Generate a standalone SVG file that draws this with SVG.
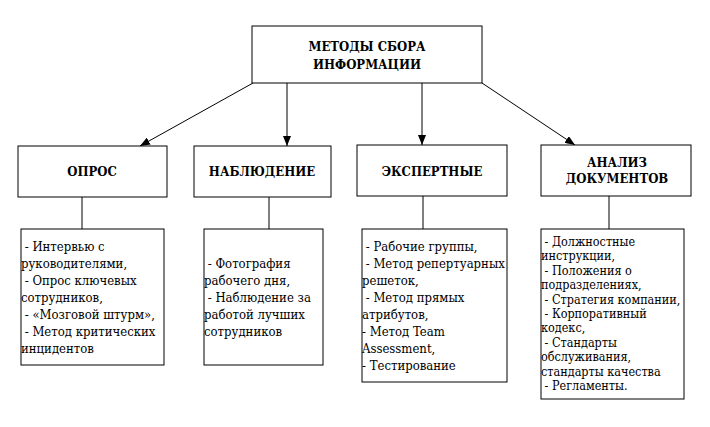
<svg xmlns="http://www.w3.org/2000/svg" width="710" height="427" viewBox="0 0 710 427">
<defs>
<marker id="ah" markerWidth="10" markerHeight="8" refX="10" refY="4" orient="auto" markerUnits="userSpaceOnUse">
<path d="M0,0 L10,4 L0,8 Z" fill="#000"/>
</marker>
<style>
.box{fill:#fff;stroke:#000;stroke-width:1}
.h{font-weight:bold;font-size:13px;text-anchor:middle;fill:#000}
.t{font-size:13px;fill:#000}
.s{font-size:12.5px}
.c{stroke:#000;stroke-width:1;fill:none}
</style>
</defs>
<rect width="710" height="427" fill="#fff"/>
<g id="connectors">
<line class="c" x1="253" y1="83" x2="140" y2="146" marker-end="url(#ah)"/>
<line class="c" x1="287" y1="83" x2="287" y2="146" marker-end="url(#ah)"/>
<line class="c" x1="422" y1="83" x2="422" y2="145" marker-end="url(#ah)"/>
<line class="c" x1="482" y1="83" x2="575" y2="145" marker-end="url(#ah)"/>
<line class="c" x1="82" y1="197" x2="82" y2="229"/>
<line class="c" x1="269" y1="197" x2="269" y2="229"/>
<line class="c" x1="423" y1="196" x2="423" y2="229"/>
<line class="c" x1="609" y1="196" x2="609" y2="229"/>
</g>
<g font-family="DejaVu Serif, Noto Serif, serif" font-stretch="condensed">
<g id="root">
<rect class="box" x="252" y="26" width="230" height="57"/>
<text class="h" x="367" y="51">МЕТОДЫ СБОРА</text>
<text class="h" x="367" y="69">ИНФОРМАЦИИ</text>
</g>
<g id="opros">
<rect class="box" x="18" y="146" width="149" height="51"/>
<text class="h" x="92" y="176">ОПРОС</text>
</g>
<g id="nabl">
<rect class="box" x="194" y="146" width="137" height="51"/>
<text class="h" x="262" y="176">НАБЛЮДЕНИЕ</text>
</g>
<g id="expert">
<rect class="box" x="357" y="145" width="150" height="51"/>
<text class="h" x="432" y="176">ЭКСПЕРТНЫЕ</text>
</g>
<g id="analiz">
<rect class="box" x="541" y="145" width="150" height="51"/>
<text class="h" x="617" y="167">АНАЛИЗ</text>
<text class="h" x="617" y="183">ДОКУМЕНТОВ</text>
</g>
<g id="opros-list">
<rect class="box" x="21" y="229" width="143" height="136"/>
<text class="t" xml:space="preserve"><tspan x="21" y="251"> - Интервью с</tspan><tspan x="21" y="268">руководителями,</tspan><tspan x="21" y="285"> - Опрос ключевых</tspan><tspan x="21" y="302">сотрудников,</tspan><tspan x="21" y="319"> - «Мозговой штурм»,</tspan><tspan x="21" y="336"> - Метод критических</tspan><tspan x="21" y="353">инцидентов</tspan></text>
</g>
<g id="nabl-list">
<rect class="box" x="204" y="229" width="119" height="136"/>
<text class="t" xml:space="preserve"><tspan x="204" y="268"> - Фотография</tspan><tspan x="204" y="285">рабочего дня,</tspan><tspan x="204" y="302"> - Наблюдение за</tspan><tspan x="204" y="319">работой лучших</tspan><tspan x="204" y="336">сотрудников</tspan></text>
</g>
<g id="expert-list">
<rect class="box" x="362" y="229" width="145" height="153"/>
<text class="t" xml:space="preserve"><tspan x="362" y="251"> - Рабочие группы,</tspan><tspan x="362" y="268"> - Метод репертуарных</tspan><tspan x="362" y="285">решеток,</tspan><tspan x="362" y="302"> - Метод прямых</tspan><tspan x="362" y="319">атрибутов,</tspan><tspan x="362" y="336">- Метод Team</tspan><tspan x="362" y="353">Assessment,</tspan><tspan x="362" y="370">- Тестирование</tspan></text>
</g>
<g id="analiz-list">
<rect class="box" x="541" y="229" width="143" height="170"/>
<text class="t s" xml:space="preserve"><tspan x="541" y="246"> - Должностные</tspan><tspan x="541" y="260.4">инструкции,</tspan><tspan x="541" y="274.8"> - Положения о</tspan><tspan x="541" y="289.2">подразделениях,</tspan><tspan x="541" y="303.6"> - Стратегия компании,</tspan><tspan x="541" y="318"> - Корпоративный</tspan><tspan x="541" y="332.4">кодекс,</tspan><tspan x="541" y="346.8"> - Стандарты</tspan><tspan x="541" y="361.2">обслуживания,</tspan><tspan x="541" y="375.6">стандарты качества</tspan><tspan x="541" y="390"> - Регламенты.</tspan></text>
</g>
</g>
</svg>
